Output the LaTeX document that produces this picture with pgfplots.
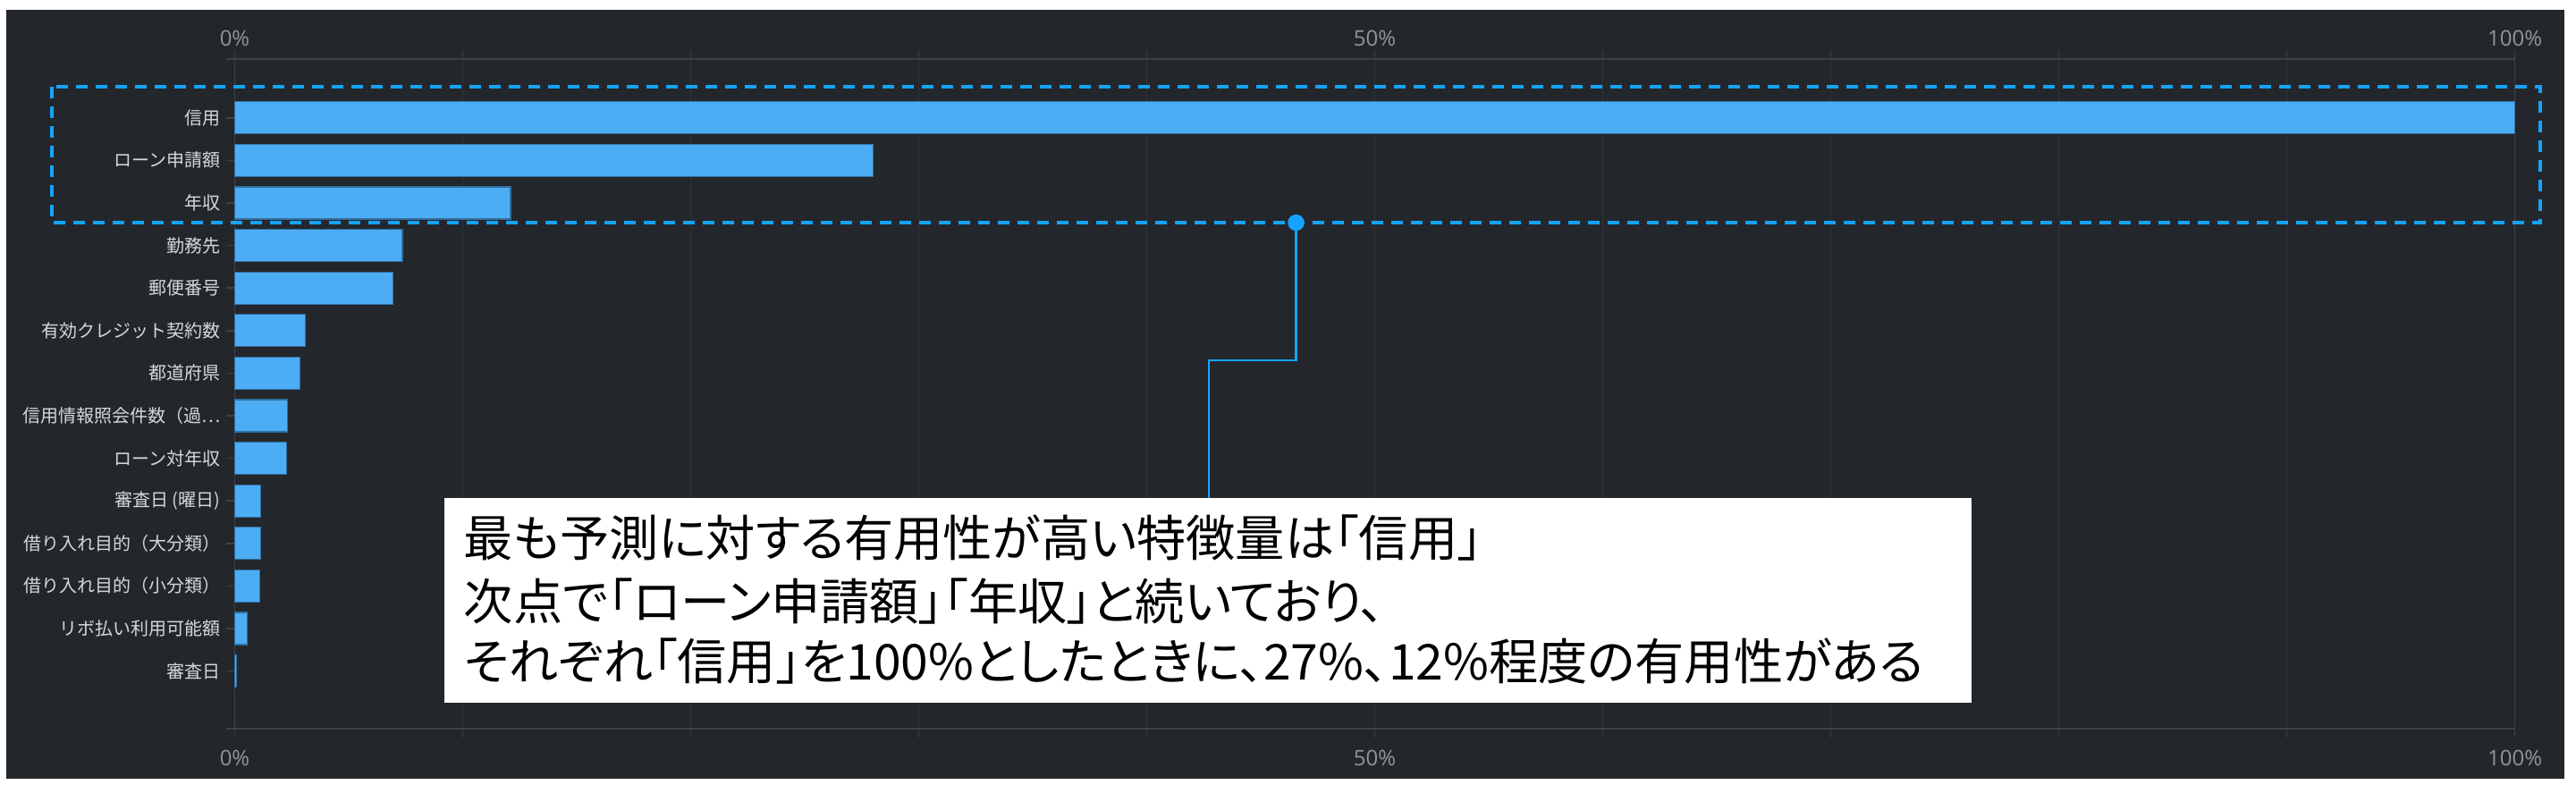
\documentclass[border=0pt]{standalone}
\usepackage{fontspec}
\setmainfont{Noto Sans CJK JP}
\newfontfamily\tickfont{Open Sans}
\newfontfamily\boxfont{Noto Sans CJK JP}[RawFeature=+palt]
\usepackage{pgfplots}
\pgfplotsset{compat=1.18}

\definecolor{bgc}{RGB}{35,39,43}
\definecolor{gridc}{RGB}{48,52,57}
\definecolor{axisc}{RGB}{62,66,72}
\definecolor{barc}{RGB}{76,173,245}
\definecolor{baredge}{RGB}{50,110,160}
\definecolor{dashc}{RGB}{22,163,255}
\definecolor{labc}{RGB}{215,215,215}
\definecolor{tickc}{RGB}{145,150,155}

\begin{document}
\begin{tikzpicture}
% 1px = 0.25pt, origin at top left of the 2881x878 image
\path[use as bounding box] (0,0) rectangle (720.25pt,-219.5pt);
\fill[white] (0,0) rectangle (720.25pt,-219.5pt);
\fill[bgc] (1.75pt,-2.75pt) rectangle (717pt,-217.75pt);

\pgfplotsset{
    imp/.style={
        at={(65.625pt,-203.75pt)}, anchor=south west,
        scale only axis, width=637.5pt, height=187.25pt,
        xmin=0, xmax=100, ymin=-1.38, ymax=14.355,
        y dir=reverse,
    }
}

% top tick labels
\begin{axis}[imp,
    axis line style={draw=none},
    major tick length=0pt,
    xtick={0,50,100},
    xticklabels={0\%,50\%,100\%},
    xticklabel pos=upper,
    ytick=\empty,
    xticklabel style={font=\tickfont\fontsize{6}{7}\selectfont, text=tickc},
]
\end{axis}

\begin{axis}[imp,
    clip=false,
    xbar,
    bar width=9pt,
    axis line style={draw=axisc, line width=0.4pt},
    tick align=outside,
    major tick length=2.5pt,
    tick style={draw=axisc, line width=0.4pt},
    xtick pos=both,
    ytick pos=left,
    xtick={0,10,...,100},
    xticklabels={0\%,,,,,50\%,,,,,100\%},
    xmajorgrids,
    major grid style={draw=gridc, line width=0.4pt},
    ytick={0,1,2,3,4,5,6,7,8,9,10,11,12,13},
    yticklabels={信用,ローン申請額,年収,勤務先,郵便番号,有効クレジット契約数,都道府県,{信用情報照会件数（過…},ローン対年収,{審査日 (曜日)},借り入れ目的（大分類）,借り入れ目的（小分類）,リボ払い利用可能額,審査日},
    extra y ticks={-1.38,14.355},
    extra y tick labels={},
    xticklabel style={font=\tickfont\fontsize{6}{7}\selectfont, text=tickc},
    yticklabel style={font=\fontsize{5}{6}\selectfont, text=labc, xshift=2pt},
]
\addplot[fill=barc, draw=baredge, line width=0.3pt] coordinates {
    (100,0) (28.0,1) (12.1,2) (7.35,3) (6.95,4) (3.1,5) (2.87,6)
    (2.31,7) (2.26,8) (1.14,9) (1.14,10) (1.09,11) (0.54,12) (0.09,13)
};

% highlight of the top three features
\draw[dashc, line width=0.8pt, dash pattern=on 3.2pt off 2.3pt]
    (axis cs:-8.02,-0.729) rectangle (axis cs:101.12,2.465);
\draw[dashc, line width=0.55pt]
    (axis cs:46.55,2.465) -- (axis cs:46.55,5.70) -- (axis cs:42.72,5.70) -- (axis cs:42.72,8.935);
\fill[dashc] (axis cs:46.55,2.465) circle (2.3pt);

% comment box
\fill[white] (axis cs:9.20,8.935) rectangle (axis cs:76.18,13.746);
\node[anchor=base west, inner sep=0pt, font=\boxfont\fontsize{13.8}{16}\selectfont]
    at (axis cs:10.02,10.32) {最も予測に対する有用性が高い特徴量は「信用」};
\node[anchor=base west, inner sep=0pt, font=\boxfont\fontsize{13.8}{16}\selectfont]
    at (axis cs:10.02,11.80) {次点で「ローン申請額」「年収」と続いており、};
\node[anchor=base west, inner sep=0pt, font=\boxfont\fontsize{13.8}{16}\selectfont]
    at (axis cs:10.02,13.22) {それぞれ「信用」を100\%としたときに、27\%、12\%程度の有用性がある};
\end{axis}
\end{tikzpicture}
\end{document}
